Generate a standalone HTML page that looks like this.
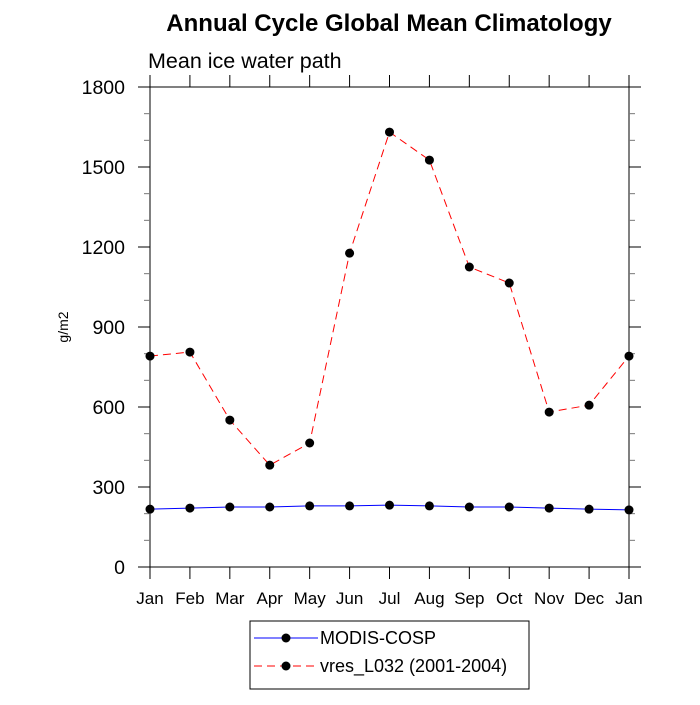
<!DOCTYPE html>
<html><head><meta charset="utf-8"><style>
body{margin:0;background:#fff}
svg text{font-family:"Liberation Sans",sans-serif}
</style></head><body>
<svg id="chart" width="700" height="700" xmlns="http://www.w3.org/2000/svg">
<text x="389" y="31" text-anchor="middle" font-size="24" font-weight="bold">Annual Cycle Global Mean Climatology</text>
<text x="148" y="68" font-size="21.5">Mean ice water path</text>
<text transform="translate(68,327) rotate(-90)" text-anchor="middle" font-size="14">g/m2</text>
<rect x="150" y="87" width="479" height="480" fill="none" stroke="#000" stroke-width="1"/>
<g id="axes"></g>
<g id="series"></g>
<g>
<rect x="250" y="621" width="279" height="68" fill="none" stroke="#000"/>
<g>
<line x1="254" y1="638" x2="318" y2="638" stroke="#00f"/><circle cx="286" cy="638" r="4.5"/>
<text x="320" y="644" font-size="18">MODIS-COSP</text></g>
<g>
<line x1="254" y1="666" x2="318" y2="666" stroke="#f00" stroke-dasharray="8,5"/><circle cx="286" cy="666" r="4.5"/>
<text x="320" y="672" font-size="18">vres_L032 (2001-2004)</text></g>
</g>
</svg>
<script>
const months=["Jan","Feb","Mar","Apr","May","Jun","Jul","Aug","Sep","Oct","Nov","Dec","Jan"];
const modis=[217,221,225,225,229,229,232,229,225,225,221,217,214];
const vres=[791,806,551,382,465,1177,1631,1526,1125,1065,581,607,791];
const yTicks=[0,300,600,900,1200,1500,1800];
const X0=150,X1=629,Y0=567,Y1=87;
const xs=i=>X0+(X1-X0)*i/(months.length-1);
const ys=v=>Y0-(Y0-Y1)*v/1800;
const NS="http://www.w3.org/2000/svg";
function mk(t,a,p){const e=document.createElementNS(NS,t);for(const k in a)e.setAttribute(k,a[k]);p.appendChild(e);return e;}
const ax=document.getElementById('axes');
months.forEach((m,i)=>{
 const x=xs(i);
 const t=mk('line',{x1:x,y1:Y0,x2:x,y2:Y0+12,stroke:'#000'},ax);
 
 
 const t2=mk('line',{x1:x,y1:Y1,x2:x,y2:Y1-12,stroke:'#000'},ax);
 
 
 const l=mk('text',{x:x,y:Y0+37,'text-anchor':'middle','font-size':'17'},ax);
 l.textContent=m;
 
 
});
for(let v=0;v<=1800;v+=100){
 const y=ys(v);const major=v%300===0;const len=major?12:6;
 const a=mk('line',{x1:X0,y1:y,x2:X0-len,y2:y,stroke:major?'#000':'#777'},ax);
 
 
 const b=mk('line',{x1:X1,y1:y,x2:X1+len,y2:y,stroke:major?'#000':'#777'},ax);
 
 
}
yTicks.forEach(v=>{
 const l=mk('text',{x:X0-25,y:ys(v)+7,'text-anchor':'end','font-size':'19.5'},ax);
 l.textContent=v;
 
 
});
const sg=document.getElementById('series');
function draw(vals,color,dash,name){
 const p=mk('polyline',{points:vals.map((v,i)=>xs(i)+','+ys(v)).join(' '),fill:'none',stroke:color,'stroke-width':1,'stroke-dasharray':dash},sg);
 
 
 vals.forEach((v,i)=>{
  const c=mk('circle',{cx:xs(i),cy:ys(v),r:4.5,fill:'#000'},sg);
  
  
 });
}
draw(modis,'#00f','none','modis');
draw(vres,'#f00','8,5','vres');
</script>
</body></html>
